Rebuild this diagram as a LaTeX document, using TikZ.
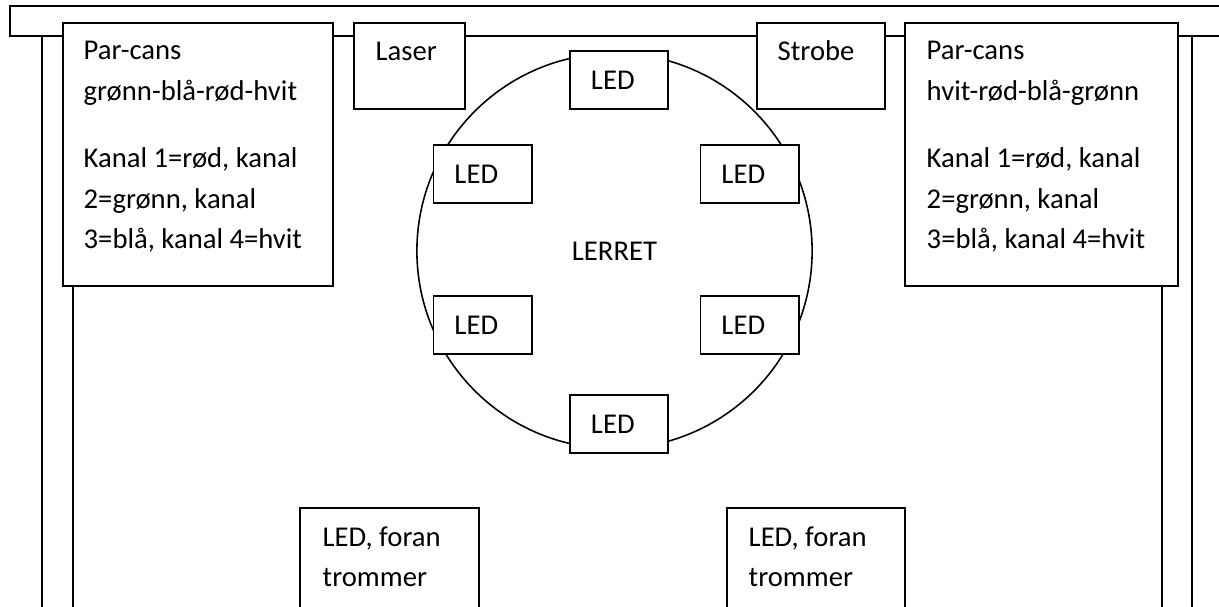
\documentclass[tikz,border=0pt]{standalone}
\usepackage{fontspec}
\setmainfont{Carlito}
\usetikzlibrary{positioning}

\begin{document}
\begin{tikzpicture}[x=0.01cm,y=-0.01cm,
	every node/.style={font=\fontsize{8.15}{11.5}\selectfont},
	box/.style={draw,fill=white,line width=0.55pt,anchor=north west,inner sep=0pt},
	led/.style={draw,fill=white,line width=0.55pt,text width=0.56cm,inner xsep=0.21cm,inner ysep=0pt,minimum height=0.58cm,align=left},
	txt/.style={anchor=base west,inner sep=0pt,align=left}
	]
	\clip (0,0) rectangle (1219,607);
	% rigg og stolper
	\draw[line width=0.55pt] (1219,6) -- (10,6) -- (10,36) -- (1219,36);
	\draw[line width=0.55pt] (42,36) -- (42,607);
	\draw[line width=0.55pt] (1192,36) -- (1192,607);
	% lerret
	\node[draw,circle,minimum size=3.95cm,inner sep=0pt,line width=0.45pt] (lerret) at (614.5,251) {LERRET};
	\node[led] (ledn) at (619,80) {LED};
	\node[led] (ednw) at (482.5,174) {LED};
	\node[led] (ledne) at (749.5,174) {LED};
	\node[led] (ledsw) at (482.5,325) {LED};
	\node[led] (ledse) at (749.5,325) {LED};
	\node[led] (leds) at (619,424) {LED};
	% lys i riggen (base = siste linje)
	\node[box,minimum width=2.7cm,minimum height=2.63cm] (lpar) at (62,22) {};
	\node[txt] (lpartxt) at ([shift={(21,226.5)}]lpar.north west) {Par-cans\\grønn-blå-rød-hvit\\[7.7pt]Kanal 1=rød, kanal\\2=grønn, kanal\\3=blå, kanal 4=hvit};
	\node[box,minimum width=1.11cm,minimum height=0.86cm] (laser) at (353,22) {};
	\node[txt] (lasertxt) at ([shift={(22,39)}]laser.north west) {Laser};
	\node[box,minimum width=1.28cm,minimum height=0.86cm] (strobe) at (756,22) {};
	\node[txt] (strobetxt) at ([shift={(21,39)}]strobe.north west) {Strobe};
	\node[box,minimum width=2.73cm,minimum height=2.63cm] (rpar) at (904,22) {};
	\node[txt] (rpartxt) at ([shift={(22,226.5)}]rpar.north west) {Par-cans\\hvit-rød-blå-grønn\\[7.7pt]Kanal 1=rød, kanal\\2=grønn, kanal\\3=blå, kanal 4=hvit};
	\draw[line width=0.55pt] ([xshift=0.11cm]lpar.south west) -- ++(0,330);
	\draw[line width=0.55pt] ([xshift=-0.17cm]rpar.south east) -- ++(0,330);
	% foran trommer
	\node[box,minimum width=1.79cm,minimum height=1.5cm] (lfront) at (299,507) {};
	\node[txt] (lfronttxt) at ([shift={(23,79.5)}]lfront.north west) {LED, foran\\trommer};
	\node[box,minimum width=1.78cm,minimum height=1.5cm] (rfront) at (726,507) {};
	\node[txt] (rfronttxt) at ([shift={(22,79.5)}]rfront.north west) {LED, foran\\trommer};
\end{tikzpicture}
\end{document}
